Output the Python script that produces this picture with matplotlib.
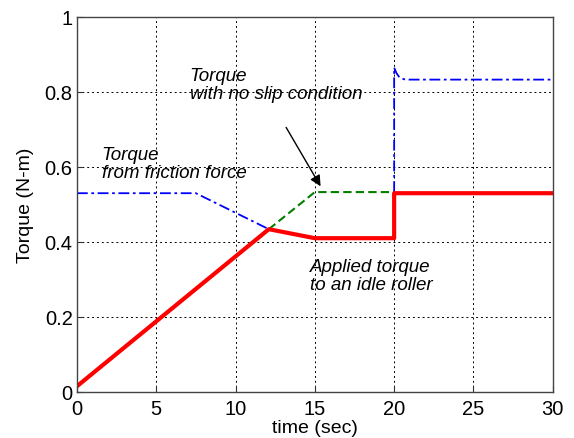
import numpy as np
import matplotlib.pyplot as plt

plt.rcParams['font.family'] = ['Liberation Sans', 'DejaVu Sans']

# applied torque to an idle roller (red)
t_applied = [0, 12.1, 15, 20, 20, 30]
tq_applied = [0.015, 0.434, 0.41, 0.41, 0.53, 0.53]

# torque with no slip condition (green)
t_noslip = [12.1, 15, 20]
tq_noslip = [0.434, 0.533, 0.533]

# torque from friction force (blue), hidden under the green line in 12..20
t_friction = [0, 7.5, 12.1, np.nan, 20, 20, 20.15, 20.35, 20.7, 30]
tq_friction = [0.53, 0.53, 0.434, np.nan, 0.533, 0.865, 0.85, 0.838, 0.833, 0.833]

x_ticks = [0, 5, 10, 15, 20, 25, 30]
y_ticks = [0, 0.2, 0.4, 0.6, 0.8, 1]
y_ticklabels = ['0', '0.2', '0.4', '0.6', '0.8', '1']

fig = plt.figure(figsize=(5.74, 4.39), dpi=100)
ax = fig.add_axes([0.134, 0.105, 0.829, 0.854])

ax.plot(t_friction, tq_friction, color='blue', lw=1.3, ls=(0, (6, 2, 1.5, 2)))
ax.plot(t_noslip, tq_noslip, color='green', lw=1.5, ls=(0, (4, 2)))
ax.plot(t_applied, tq_applied, color='red', lw=3)

ax.set_xlim(0, 30)
ax.set_ylim(0, 1)
ax.set_xticks(x_ticks)
ax.set_yticks(y_ticks)
ax.set_yticklabels(y_ticklabels)
ax.tick_params(direction='in', length=4, labelsize=14.5, colors='#333333', labelcolor='black')
ax.tick_params(axis='x', pad=5)
ax.tick_params(axis='y', pad=3)
ax.grid(True, color='black', ls=(0, (2, 3)), lw=0.7)
for s in ax.spines.values():
    s.set_color('#444444')
    s.set_linewidth(1)

ax.set_xlabel('time (sec)', fontsize=14, labelpad=1)
ax.set_ylabel('Torque (N-m)', fontsize=14, labelpad=8)

ax.text(7.1, 0.82, 'Torque\nwith no slip condition', fontsize=13.5, style='italic',
        va='center', ha='left', linespacing=1.05)
ax.text(1.55, 0.61, 'Torque\nfrom friction force', fontsize=13.5, style='italic',
        va='center', ha='left', linespacing=1.05)
ax.text(14.7, 0.31, 'Applied torque\nto an idle roller', fontsize=13.5, style='italic',
        va='center', ha='left', linespacing=1.05)
ax.annotate('', xy=(15.45, 0.542), xytext=(13.1, 0.712),
            arrowprops=dict(arrowstyle='-|>', color='black', lw=1, mutation_scale=16))

fig.savefig('out.png', dpi=100)
